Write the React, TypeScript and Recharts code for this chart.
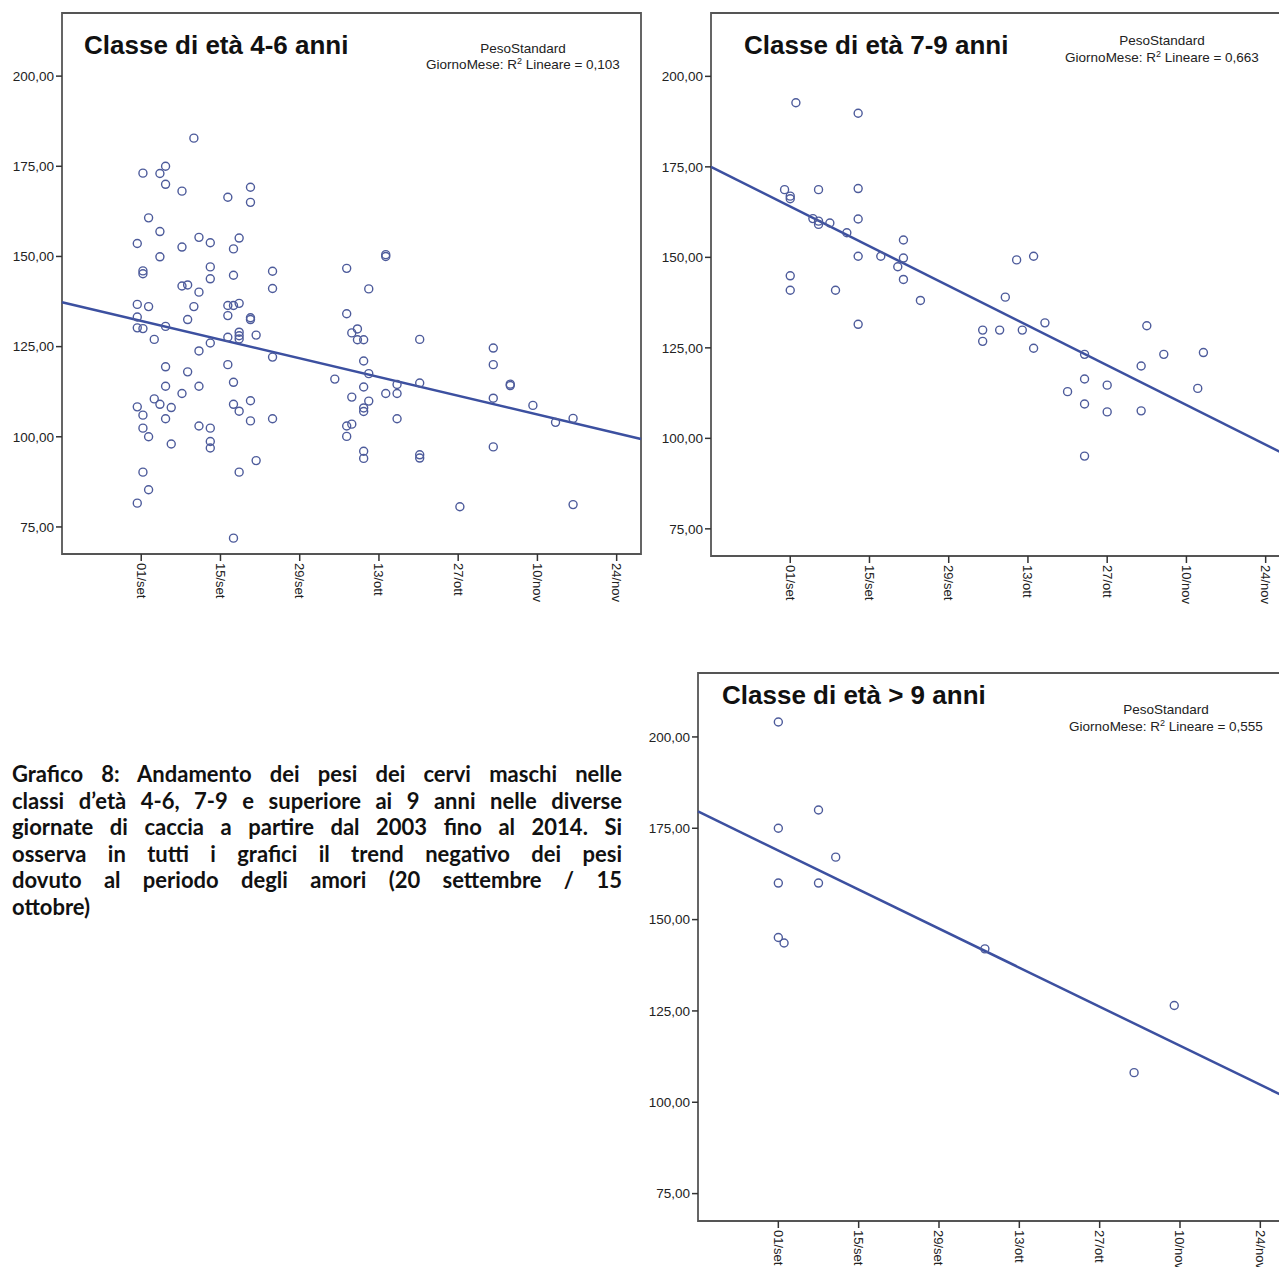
import React from 'react';
import { ScatterChart, Scatter, XAxis, YAxis, ReferenceLine, ReferenceArea } from 'recharts';

// ---------- axis definitions ----------
const xTickValues = [0, 14, 28, 42, 56, 70, 84]; // days since 01/set
const xTickLabels = ['01/set', '15/set', '29/set', '13/ott', '27/ott', '10/nov', '24/nov'];
const yTickValues = [75, 100, 125, 150, 175, 200];
const xDomain = [-14, 88.3];
const yDomain = [67.5, 217.5];

// ---------- panel texts ----------
const panelTitles = ['Classe di età 4-6 anni', 'Classe di età 7-9 anni', 'Classe di età > 9 anni'];
const legendLabel = 'PesoStandard';
const r2Values = ['0,103', '0,663', '0,555'];

// ---------- data: class 4-6 years ----------
const days46 = [
  9.3, 0.3, 4.3, 3.3, 4.3, 7.2, 19.3, 15.3, 19.3, 1.3, 3.3, -0.7, 7.2, 10.2, 12.2, 17.3, 16.3, 3.3, 0.3, 0.3,
  12.2, 12.2, 16.3, 23.2, 23.2, 7.2, 8.2, 10.2, -0.7, 1.3, 9.3, 15.3, 16.3, 17.3,
  -0.7, 8.2, 15.3, 19.3, 19.3, -0.7, 0.3, 4.3, 2.3, 10.2, 12.2, 15.3, 17.3, 17.3, 17.3, 20.3, 23.2, 4.3, 8.2, 15.3,
  4.3, 7.2, 10.2, 16.3, 2.3, 3.3, 5.3, -0.7, 0.3, 4.3, 16.3, 17.3, 19.3, 19.3, 23.2, 0.3, 1.3, 5.3, 10.2, 12.2,
  12.2, 12.2, 20.3, 17.3, 0.3, 1.3, -0.7, 16.3,
  43.2, 43.2, 36.3, 40.2, 36.3, 38.2, 37.2, 38.2, 39.3, 49.2, 62.2, 62.2, 39.3, 40.2, 34.2, 39.3, 45.2, 49.2, 65.2, 65.2,
  43.2, 45.2, 37.2, 40.2, 62.2, 39.3, 39.3, 69.2, 73.2, 76.3, 45.2, 36.3, 37.2, 36.3, 39.3, 39.3, 49.2, 49.2, 62.2, 56.3,
  76.3,
];
const weights46 = [
  182.8, 173.1, 175, 173, 170, 168.1, 169.2, 166.4, 165, 160.7, 156.9, 153.6, 152.6, 155.3, 153.8, 155.1, 152.1, 149.9, 146, 145.2,
  147.1, 143.8, 144.8, 145.9, 141.1, 141.8, 142.1, 140.1, 136.7, 136.1, 136.1, 136.4, 136.4, 137,
  133.2, 132.5, 133.6, 133, 132.5, 130.2, 130, 130.6, 127, 123.8, 126, 127.6, 129, 128, 127.1, 128.2, 122.1, 119.4, 118, 120,
  114, 112, 114, 115.1, 110.5, 109, 108.1, 108.3, 106, 105, 109, 107.1, 110, 104.4, 105, 102.4, 100, 98, 103, 102.4,
  98.7, 96.9, 93.4, 90.2, 90.2, 85.3, 81.6, 71.9,
  150.5, 150, 146.7, 141, 134.1, 129.9, 128.8, 126.9, 126.9, 127, 124.6, 120, 121, 117.5, 116, 113.8, 114.5, 114.9, 114.6, 114.2,
  112, 112, 111, 109.9, 110.7, 108, 107, 108.7, 104, 105.1, 105, 103, 103.5, 100.1, 96, 94, 95, 94.1, 97.2, 80.6,
  81.2,
];
const fit46 = [137.3, 99.4]; // regression line value at xDomain ends

// ---------- data: class 7-9 years ----------
const days79 = [
  1, 12, -1, 0, 0, 5, 12, 4, 5, 5, 7, 12, 10, 12, 16, 20, 20, 19, 20, 0,
  0, 8, 23, 12, 38, 34, 34, 37, 41, 45, 43, 40, 43, 63, 52, 66, 73, 62, 52, 56,
  49, 72, 52, 56, 62, 52,
];
const weights79 = [
  192.7, 189.8, 168.7, 166.9, 166.2, 168.7, 169, 160.7, 160, 159.1, 159.5, 160.6, 156.8, 150.3, 150.3, 154.8, 149.8, 147.4, 143.9, 144.9,
  140.9, 140.9, 138.1, 131.5, 139, 129.9, 126.8, 129.9, 129.9, 131.9, 124.9, 149.3, 150.3, 131.1, 123.2, 123.2, 123.7, 120, 116.4, 114.7,
  112.9, 113.8, 109.5, 107.3, 107.6, 95.1,
];
const fit79 = [175.0, 94.9];

// ---------- data: class > 9 years ----------
const days9 = [0, 7, 0, 10, 0, 7, 0, 1, 36, 69, 62];
const weights9 = [204.1, 180, 175, 167.1, 160, 160, 145.1, 143.6, 142, 126.5, 108.1];
const fit9 = [179.6, 101.5];

// ---------- caption ----------
const captionLines = [
  'Grafico 8: Andamento dei pesi dei cervi maschi nelle',
  'classi d\u2019età 4-6, 7-9 e superiore ai 9 anni nelle diverse',
  'giornate di caccia a partire dal 2003 fino al 2014. Si',
  'osserva in tutti i grafici il trend negativo dei pesi',
  'dovuto al periodo degli amori (20 settembre / 15',
  'ottobre)',
];

const zip = (ds: number[], ws: number[]) => ds.map((d, i) => ({ d, w: ws[i] }));

const FONT = '"Liberation Sans", Arial, Helvetica, sans-serif';
const POINT_COLOR = '#4d5b9b';
const LINE_COLOR = '#3c50a0';
const FRAME_COLOR = '#555';

const fmtY = (v: number) => v.toFixed(2).replace('.', ',');

const XTick = (props: any) => {
  const { x, y, payload } = props;
  const idx = xTickValues.indexOf(payload.value);
  return (
    <text
      x={x}
      y={y}
      transform={`rotate(90, ${x}, ${y})`}
      textAnchor="start"
      dominantBaseline="central"
      fontSize={13}
      fontFamily={FONT}
      fill="#222"
    >
      {xTickLabels[idx]}
    </text>
  );
};

const Ring = (props: any) => {
  const { cx, cy } = props;
  if (cx == null || cy == null) return <g />;
  return <circle cx={cx} cy={cy} r={4} fill="none" stroke={POINT_COLOR} strokeWidth={1.4} />;
};

type PanelProps = {
  plotLeft: number;
  plotTop: number;
  plotW: number;
  plotH: number;
  points: { d: number; w: number }[];
  fit: number[];
};

const Y_AXIS_W = 62;
const X_AXIS_H = 60;
const M_TOP = 13;
const M_RIGHT = 5;

function Panel({ plotLeft, plotTop, plotW, plotH, points, fit }: PanelProps) {
  const width = Y_AXIS_W + plotW + M_RIGHT;
  const height = M_TOP + plotH + X_AXIS_H;
  return (
    <div style={{ position: 'absolute', left: plotLeft - Y_AXIS_W, top: plotTop - M_TOP }}>
      <ScatterChart width={width} height={height} margin={{ top: M_TOP, right: M_RIGHT, bottom: 0, left: 0 }}>
        <XAxis
          type="number"
          dataKey="d"
          domain={xDomain}
          ticks={xTickValues}
          allowDataOverflow
          interval={0}
          height={X_AXIS_H}
          tickSize={7}
          tick={<XTick />}
          axisLine={false}
          tickLine={{ stroke: '#333', strokeWidth: 1.5 }}
        />
        <YAxis
          type="number"
          dataKey="w"
          domain={yDomain}
          ticks={yTickValues}
          allowDataOverflow
          interval={0}
          width={Y_AXIS_W}
          tickSize={6}
          tickFormatter={fmtY}
          tick={{ fontSize: 13.5, fill: '#222', fontFamily: FONT }}
          axisLine={false}
          tickLine={{ stroke: '#333', strokeWidth: 1.5 }}
        />
        <ReferenceArea
          x1={xDomain[0]}
          x2={xDomain[1]}
          y1={yDomain[0]}
          y2={yDomain[1]}
          fill="none"
          fillOpacity={0}
          stroke={FRAME_COLOR}
          strokeWidth={1.8}
          ifOverflow="visible"
        />
        <ReferenceLine
          segment={[
            { x: xDomain[0], y: fit[0] },
            { x: xDomain[1], y: fit[1] },
          ]}
          stroke={LINE_COLOR}
          strokeWidth={2.5}
          ifOverflow="visible"
        />
        <Scatter data={points} isAnimationActive={false} shape={Ring} />
      </ScatterChart>
    </div>
  );
}

function LegendText({ cx, y1, y2, r2 }: { cx: number; y1: number; y2: number; r2: string }) {
  return (
    <g fontFamily={FONT} fontSize={13.5} fill="#222">
      <text x={cx} y={y1} textAnchor="middle">{legendLabel}</text>
      <text x={cx} y={y2} textAnchor="middle">
        GiornoMese: R
        <tspan dy={-5} fontSize={9}>2</tspan>
        <tspan dy={5}>{` Lineare = ${r2}`}</tspan>
      </text>
    </g>
  );
}

export default function App() {
  return (
    <div
      style={{
        position: 'absolute',
        left: 0,
        top: 0,
        width: 1279,
        height: 1267,
        overflow: 'hidden',
        background: '#fff',
      }}
    >
      <Panel plotLeft={62} plotTop={13} plotW={579} plotH={541} points={zip(days46, weights46)} fit={fit46} />
      <Panel plotLeft={711} plotTop={13} plotW={579} plotH={543} points={zip(days79, weights79)} fit={fit79} />
      <Panel plotLeft={698} plotTop={673} plotW={587} plotH={548} points={zip(days9, weights9)} fit={fit9} />

      <svg
        width={1279}
        height={1267}
        style={{ position: 'absolute', left: 0, top: 0, pointerEvents: 'none' }}
      >
        <g fontFamily={FONT} fontWeight="bold" fontSize={26} fill="#111">
          <text x={84} y={54}>{panelTitles[0]}</text>
          <text x={744} y={54}>{panelTitles[1]}</text>
          <text x={722} y={704}>{panelTitles[2]}</text>
        </g>
        <LegendText cx={523} y1={53} y2={69} r2={r2Values[0]} />
        <LegendText cx={1162} y1={45} y2={61.5} r2={r2Values[1]} />
        <LegendText cx={1166} y1={714} y2={731} r2={r2Values[2]} />
      </svg>

      <div
        style={{
          position: 'absolute',
          left: 12,
          top: 761,
          width: 610,
          fontFamily: 'Lato, "Open Sans", sans-serif',
          fontWeight: 700,
          fontSize: 22,
          lineHeight: '26.5px',
          color: '#111',
        }}
      >
        {captionLines.map((line, i) => (
          <div
            key={i}
            style={{
              whiteSpace: 'nowrap',
              textAlign: i < captionLines.length - 1 ? 'justify' : 'left',
              textAlignLast: i < captionLines.length - 1 ? 'justify' : 'left',
            }}
          >
            {line}
          </div>
        ))}
      </div>
    </div>
  );
}
